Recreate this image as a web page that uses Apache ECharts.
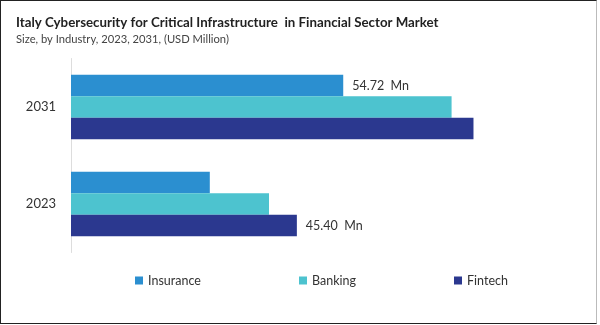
<!DOCTYPE html>
<html>
<head>
<meta charset="utf-8">
<script src="https://cdn.jsdelivr.net/npm/echarts@6/dist/echarts.min.js"></script>
<style>
html,body{margin:0;padding:0;background:#fff;}
#wrap{position:absolute;left:0;top:0;width:597px;height:324px;box-sizing:border-box;border:1px solid #222;border-right-color:#bbb;}
#chart{position:absolute;left:0;top:0;width:600px;height:325px;}
</style>
</head>
<body>
<div id="chart"></div>
<div id="wrap"></div>
<script>
const categories = ['2023', '2031'];
const seriesNames = ['Insurance', 'Banking', 'Fintech'];
const insurance = [27.9, 54.72];
const banking = [39.8, 76.5];
const fintech = [45.40, 80.9];
const labelText = {Insurance: [null, '54.72  Mn'], Fintech: ['45.40  Mn', null]};
const colors = ['#2b8fd0', '#4dc3cf', '#2b388f'];
const values = [insurance, banking, fintech];

const chart = echarts.init(document.getElementById('chart'), null, {renderer: 'canvas'});
const FONT = 'Lato';
const legendLefts = [130, 294, 449];

const option = {
  animation: false,
  title: [{
    text: 'Italy Cybersecurity for Critical Infrastructure  in Financial Sector Market',
    left: 11, top: 11,
    textStyle: {fontFamily: FONT, fontSize: 13.3, fontWeight: 'bold', color: '#222'}
  }, {
    text: 'Size, by Industry, 2023, 2031, (USD Million)',
    left: 11, top: 29,
    textStyle: {fontFamily: FONT, fontSize: 11.2, fontWeight: 'normal', color: '#444'}
  }],
  legend: seriesNames.map((n, i) => ({
    data: [n], left: legendLefts[i], top: 269,
    itemWidth: 8, itemHeight: 8, itemGap: 4, icon: 'rect',
    textStyle: {fontFamily: FONT, fontSize: 12.5, color: '#333', padding: [0,0,0,0]}
  })),
  grid: {left: 71, top: 58.5, width: 497.5, height: 194},
  xAxis: {type: 'value', min: 0, max: 100, show: false},
  yAxis: {
    type: 'category', data: categories,
    axisLine: {show: true, lineStyle: {color: '#ddd'}},
    axisTick: {show: false},
    axisLabel: {fontFamily: FONT, fontSize: 13, color: '#333', margin: 15}
  },
  series: seriesNames.map((n, i) => ({
    name: n, type: 'bar', barWidth: 21.5, barGap: '0%',
    itemStyle: {color: colors[i]},
    data: values[i].map((v, j) => {
      const lt = labelText[n] && labelText[n][j];
      return lt ? {value: v, label: {show: true, position: 'right', distance: 9, formatter: lt,
        fontFamily: FONT, fontSize: 12.5, color: '#333'}} : v;
    })
  }))
};
chart.setOption(option);
</script>
</body>
</html>
